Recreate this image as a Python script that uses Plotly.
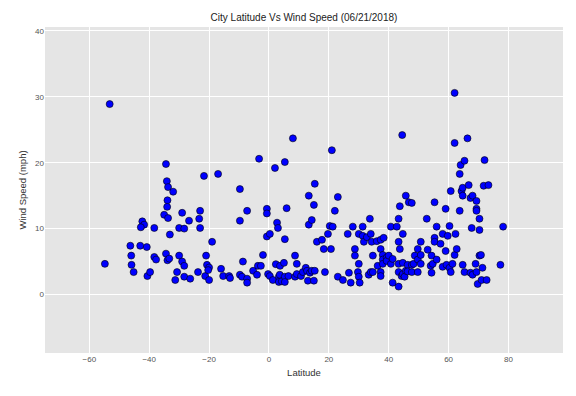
import plotly.graph_objects as go

latitude = [
    -53.2, -54.8,
    -46.3, -46.0, -45.9, -45.2, -43.0, -42.3, -41.7, -42.8, -40.8, -40.6, -39.7,
    -38.3, -38.3, -37.7, -35.0, -34.4, -34.1, -33.7, -33.9, -34.0, -33.7, -33.1,
    -34.4, -33.9, -32.0, -33.3,
    -31.3, -30.7, -30.0, -30.0, -29.0, -29.0, -28.3, -28.3, -28.3, -26.7, -26.3,
    -23.7, -23.3, -23.0, -23.0, -21.7, -21.3, -21.0, -20.7, -20.0, -20.3, -20.0,
    -19.0, -17.0, -16.0, -15.3, -13.3, -13.0, -9.7, -9.7, -9.7, -8.7, -9.0,
    -7.3, -7.3, -7.3, -5.3, -4.0, -3.7, -2.7, -3.3, -2.0, -0.7, -0.7, -0.7,
    0.3, -0.3, 0.3, 1.3, 2.0, 2.3, 2.7, 3.0, 3.3, 3.3, 3.6, 3.7, 4.3, 5.0,
    5.3, 5.3, 5.3, 5.3, 5.9, 6.5, 8.0, 8.7, 9.3, 8.7, 9.3, 10.7, 11.3, 12.3,
    12.7, 13.0, 13.3, 13.3, 13.7, 14.3, 14.3, 15.0, 15.0, 15.3, 15.3, 16.0,
    17.7, 18.3, 18.7, 19.7, 20.3, 20.7, 21.0, 21.3, 22.0, 23.0, 23.0, 24.7,
    26.3, 26.7, 27.3, 28.0, 28.7, 28.7, 29.7, 30.0, 30.0, 30.0, 30.3, 31.3,
    31.3, 31.7, 32.7, 33.3, 33.7, 34.0, 34.0, 34.3, 34.7, 34.7, 36.0, 36.3,
    37.3, 37.3, 37.3, 37.3, 38.0, 38.0, 38.0, 38.3, 39.3, 39.3, 40.0, 40.7,
    40.7, 41.3, 41.3, 42.7, 43.3, 43.3, 43.3, 43.3, 43.3, 43.7, 43.7, 44.3,
    44.5, 44.7, 44.7, 44.7, 45.3, 45.7, 45.7, 46.3, 46.3, 46.7, 47.7, 47.7,
    47.7, 48.3, 48.7, 49.7, 49.7, 49.7, 50.7, 50.7, 50.7, 52.7, 53.0, 54.0,
    54.3, 54.3, 54.7, 55.3, 55.3, 55.3, 56.0, 56.0, 57.3, 58.0, 58.0, 59.0,
    59.0, 59.3, 59.7, 60.3, 60.3, 60.7, 60.7, 61.3, 62.0, 62.0, 62.0, 62.3,
    62.7, 63.7, 63.7, 64.0, 64.3, 64.7, 64.7, 64.7, 65.3, 65.3, 66.3, 66.7,
    67.3, 67.3, 67.7, 68.0, 68.0, 69.0, 69.3, 69.3, 69.3, 69.3, 69.7, 70.3,
    70.3, 70.3, 70.8, 71.0, 71.3, 71.7, 72.0, 72.7, 73.3, 77.3, 78.2,
]

wind_speed = [
    28.9, 4.65,
    7.4, 5.9, 4.5, 3.4, 7.4, 11.1, 10.6, 10.2, 7.2, 2.8, 3.4,
    10.1, 5.7, 5.3, 12.1, 19.8, 17.2, 16.3, 14.3, 13.3, 11.6, 9.1,
    6.2, 5.2, 15.6, 5.45,
    2.2, 3.4, 10.1, 5.9, 12.4, 5.0, 10.0, 4.35, 2.7, 11.2, 2.4,
    3.4, 11.5, 12.7, 10.1, 18.0, 2.8, 5.9, 4.5, 4.1, 3.7, 2.2,
    8.0, 18.3, 3.9, 2.8, 2.8, 2.5, 16.0, 11.2, 3.0, 5.0, 2.7,
    12.7, 2.4, 1.8, 3.6, 3.0, 4.35, 4.35, 20.6, 6.0, 13.0, 12.3, 8.8,
    9.2, 3.1, 2.8, 2.2, 19.2, 4.6, 10.9, 10.1, 2.7, 1.9, 3.0, 4.35, 2.0, 4.8,
    20.1, 8.4, 2.7, 1.9, 13.1, 2.8, 23.7, 5.9, 4.65, 2.7, 3.1, 2.8, 3.4, 4.05,
    3.6, 2.1, 15.0, 10.6, 3.3, 11.3, 3.6, 13.6, 2.1, 16.8, 3.6, 8.0,
    8.3, 6.9, 3.4, 9.2, 10.4, 6.9, 21.9, 10.3, 12.7, 14.8, 2.7, 2.2,
    9.2, 3.3, 1.8, 10.3, 6.9, 5.9, 3.4, 9.2, 4.65, 2.7, 1.8, 10.3,
    8.9, 8.0, 8.7, 3.0, 11.5, 9.2, 3.4, 8.0, 5.9, 3.4, 8.1, 4.35,
    8.3, 6.9, 3.4, 2.8, 6.0, 5.3, 4.65, 8.6, 5.6, 5.1, 5.9, 10.3,
    4.65, 5.4, 1.8, 10.3, 11.5, 8.0, 4.65, 3.4, 1.2, 13.4, 6.9, 2.8,
    24.2, 9.2, 4.8, 3.1, 2.7, 15.0, 3.6, 4.5, 3.5, 14.0, 13.9, 4.5,
    3.4, 4.65, 5.9, 6.9, 5.3, 3.4, 8.0, 6.0, 4.65, 11.5, 6.8, 4.35,
    5.9, 3.3, 4.65, 14.0, 8.6, 8.0, 10.3, 5.3, 7.7, 9.2, 4.2, 13.0,
    6.6, 4.5, 8.9, 10.4, 4.05, 15.7, 3.4, 4.65, 30.6, 23.0, 6.0, 9.2,
    6.9, 18.3, 12.7, 19.65, 15.7, 16.2, 15.0, 4.5, 20.3, 3.4, 23.7, 16.6,
    14.65, 3.3, 10.1, 15.0, 3.0, 4.65, 14.2, 13.0, 12.7, 3.4, 1.6, 11.5,
    9.8, 5.9, 6.0, 2.2, 4.05, 16.5, 20.4, 2.2, 16.6, 4.5, 10.3,
]

x_ticks = [-60, -40, -20, 0, 20, 40, 60, 80]
y_ticks = [0, 10, 20, 30, 40]

fig = go.Figure(go.Scatter(
    x=latitude, y=wind_speed, mode="markers",
    marker=dict(size=7, color="#0000FF", line=dict(color="black", width=0.6)),
))

font_family = "Liberation Sans, Arial, sans-serif"
fig.update_layout(
    width=576, height=396,
    margin=dict(l=45, r=13, t=27, b=43),
    paper_bgcolor="white", plot_bgcolor="#E5E5E5",
    showlegend=False,
    font=dict(family=font_family, color="#555555", size=8),
    title=dict(text="City Latitude Vs Wind Speed (06/21/2018)",
               xref="paper", x=0.5, xanchor="center",
               yref="container", y=1 - 17 / 396, yanchor="middle",
               font=dict(size=10, color="#222222", family=font_family)),
)
fig.update_xaxes(range=[-74.8, 98.2], tickvals=x_ticks, showgrid=True,
                 gridcolor="white", gridwidth=1, zeroline=False, showline=False,
                 ticks="", automargin=False, tickfont=dict(size=8, color="#555555"),
                 title=dict(text="Latitude", standoff=6,
                            font=dict(size=9.5, color="#333333")))
fig.update_yaxes(range=[-8.88, 40.6], tickvals=y_ticks, showgrid=True,
                 gridcolor="white", gridwidth=1, zeroline=False, showline=False,
                 ticks="", automargin=False, tickfont=dict(size=8, color="#555555"),
                 title=dict(text="Wind Speed (mph)", standoff=6,
                            font=dict(size=9.5, color="#333333")))

fig.write_html(
    "out.html",
    config={"displayModeBar": False},
    post_script="document.body.style.margin='0px';document.body.style.overflow='hidden';",
)
